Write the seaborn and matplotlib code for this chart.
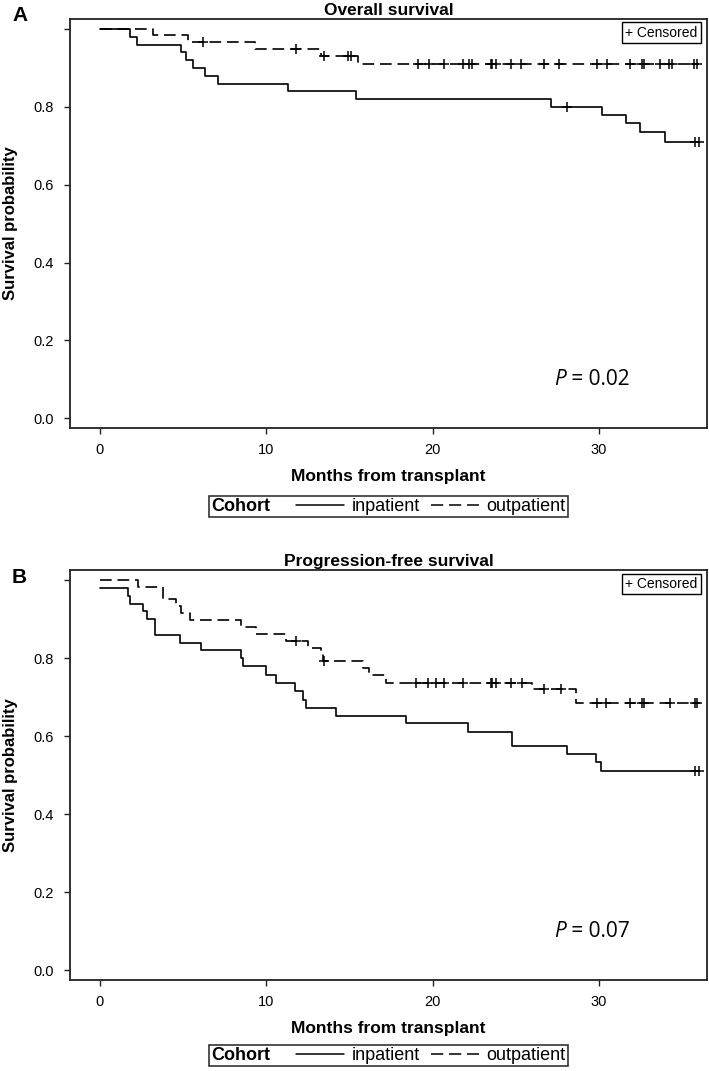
import numpy as np
import pandas as pd
import matplotlib
matplotlib.use("Agg")
import matplotlib.pyplot as plt
import seaborn as sns
from matplotlib.lines import Line2D
from matplotlib.offsetbox import HPacker

# Overall survival - step times (months) and survival after each step
os_in_t = [0, 1.8, 2.2, 4.9, 5.2, 5.6, 6.3, 7.1, 11.3, 15.4, 27.1, 30.2, 31.6, 32.5, 34.0]
os_in_s = [1.0, 0.98, 0.96, 0.94, 0.92, 0.90, 0.88, 0.86, 0.84, 0.82, 0.80, 0.78, 0.76, 0.735, 0.71]
os_in_cens = [28.1, 35.8, 36.0]

os_out_t = [0, 3.2, 5.3, 9.3, 13.3, 15.5]
os_out_s = [1.0, 0.985, 0.967, 0.948, 0.930, 0.911]
os_out_cens = [6.2, 11.8, 13.5, 14.9, 15.1, 19.1, 19.8, 20.7, 21.8, 22.2, 22.4, 23.5, 23.6,
               23.8, 24.7, 25.3, 26.7, 27.6, 29.9, 30.5, 31.9, 32.6, 32.7, 33.7, 34.2, 34.4,
               35.7, 35.9]

# Progression-free survival
pfs_in_t = [0, 1.7, 1.8, 2.6, 2.8, 3.3, 4.8, 6.1, 8.5, 8.6, 10.0, 10.6, 11.7, 12.2, 12.4,
            14.2, 18.4, 22.1, 24.8, 28.1, 29.8, 30.1]
pfs_in_s = [0.98, 0.96, 0.94, 0.92, 0.90, 0.86, 0.84, 0.82, 0.80, 0.78, 0.757, 0.737, 0.715,
            0.693, 0.673, 0.653, 0.633, 0.61, 0.574, 0.554, 0.534, 0.512]
pfs_in_cens = [35.8, 36.0]

pfs_out_t = [0, 2.3, 3.8, 4.6, 4.9, 5.4, 8.5, 9.4, 11.2, 12.5, 13.3, 13.4, 15.8, 16.2, 17.2,
             26.0, 28.6]
pfs_out_s = [1.0, 0.983, 0.951, 0.933, 0.916, 0.899, 0.88, 0.861, 0.843, 0.826, 0.81, 0.794,
             0.774, 0.758, 0.737, 0.72, 0.686]
pfs_out_cens = [11.8, 13.5, 19.0, 19.7, 20.2, 20.7, 21.8, 23.5, 23.6, 23.8, 24.7, 25.4, 26.7,
                27.7, 29.9, 30.4, 31.9, 32.6, 32.7, 34.3, 35.8, 35.9]

cohorts = ["inpatient", "outpatient"]
x_ticks = [0, 10, 20, 30]
y_ticks = [0.0, 0.2, 0.4, 0.6, 0.8, 1.0]
y_ticklabels = ["0.0", "0.2", "0.4", "0.6", "0.8", ""]

sns.set_theme(style="ticks")
SANS = ["Liberation Sans", "DejaVu Sans"]
plt.rcParams["font.family"] = SANS
for k in ["text.color", "axes.labelcolor", "xtick.color", "ytick.color"]:
    plt.rcParams[k] = "black"

W, H = 709, 1071
fig = plt.figure(figsize=(W / 100, H / 100), dpi=100)

DASH = (0, (7, 3.5))


def km_frame(times, surv, cens, end=36.0):
    curve = pd.DataFrame({"month": list(times) + [end], "surv": list(surv) + [surv[-1]]})
    # censor marks sit on the curve at their time
    idx = np.searchsorted(times, cens, side="right") - 1
    marks = pd.DataFrame({"month": cens, "surv": np.array(surv)[idx]})
    return curve, marks


def panel(rect, arms, title, letter, letter_y, pval, leg_top):
    ax = fig.add_axes(rect)
    for (t, s, c), ls in zip(arms, ["-", DASH]):
        curve, marks = km_frame(t, s, c)
        sns.lineplot(data=curve, x="month", y="surv", drawstyle="steps-post", estimator=None,
                     sort=False, color="black", lw=1.2, linestyle=ls, ax=ax)
        sns.scatterplot(data=marks, x="month", y="surv", marker="+", s=45, color="black",
                        linewidth=1.1, ax=ax, zorder=3)

    ax.set_xlim(-1.8, 36.5)
    ax.set_ylim(-0.025, 1.026)
    ax.set_xticks(x_ticks)
    ax.set_yticks(y_ticks)
    ax.set_yticklabels(y_ticklabels)
    ax.tick_params(length=4.5, width=1, color="#222222", labelsize=10.5)
    ax.tick_params(axis="x", pad=6)
    ax.tick_params(axis="y", pad=7)
    for sp in ax.spines.values():
        sp.set_linewidth(1.3)
        sp.set_color("#222222")

    ax.set_title(title, fontweight="bold", fontsize=12.5, pad=3)
    ax.set_xlabel("Months from transplant", fontweight="bold", fontsize=12.5)
    ax.xaxis.set_label_coords(0.5, -0.1)
    ax.set_ylabel("Survival probability", fontweight="bold", fontsize=12)
    ax.yaxis.set_label_coords(-0.082, 0.5)

    ax.text(0.985, 0.984, "+ Censored", transform=ax.transAxes, ha="right", va="top",
            fontsize=10,
            bbox=dict(boxstyle="square,pad=0.22", fc="white", ec="black", lw=1))

    p = ax.text(27.3, 0.1, "P", fontsize=15, style="italic", family=["Open Sans"],
                va="center")
    ax.annotate(" = " + pval, xy=(1, 0), xycoords=p, va="bottom", fontsize=15,
                family=["Open Sans"])

    fig.text(12 / W, 1 - letter_y / H, letter, fontsize=15, fontweight="bold",
             va="baseline")

    handles = [Line2D([], [], color="black", lw=1.1),
               Line2D([], [], color="black", lw=1.1, linestyle=(0, (8, 3.8)))]
    leg = fig.legend(handles, cohorts, title="Cohort", ncol=2, loc="upper center",
                     bbox_to_anchor=(388.5 / W, 1 - leg_top / H), fontsize=13,
                     title_fontsize=13, frameon=True, fancybox=False, borderpad=0.12,
                     handlelength=2.7, handletextpad=0.4, columnspacing=0.6,
                     labelspacing=1.4, borderaxespad=0)
    leg.get_title().set_fontweight("bold")
    leg.get_frame().set_edgecolor("black")
    leg.get_frame().set_linewidth(1.2)
    # put the "Cohort" title beside the entries rather than above them
    leg._legend_box.__class__ = HPacker
    return ax


panel([70 / W, 1 - 428 / H, 637 / W, 409 / H],
      [(os_in_t, os_in_s, os_in_cens), (os_out_t, os_out_s, os_out_cens)],
      "Overall survival", "A", 21, "0.02", 496)
panel([70 / W, 1 - 980 / H, 637 / W, 410 / H],
      [(pfs_in_t, pfs_in_s, pfs_in_cens), (pfs_out_t, pfs_out_s, pfs_out_cens)],
      "Progression-free survival", "B", 583, "0.07", 1045)

fig.savefig("out.png", dpi=100)
